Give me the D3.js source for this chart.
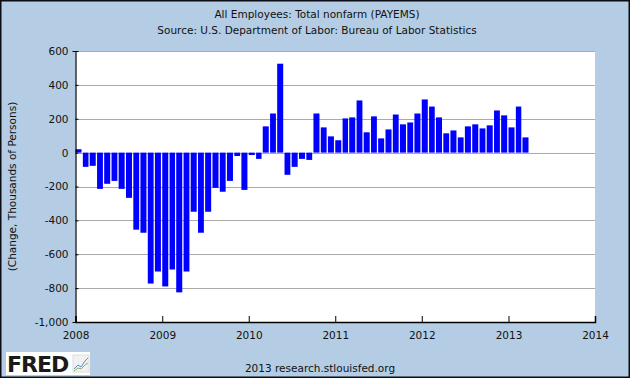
<!DOCTYPE html>
<html>
<head>
<meta charset="utf-8">
<script src="https://cdn.jsdelivr.net/npm/d3@7"></script>
<style>
  body { margin: 0; background: #fff; }
  svg text { font-family: "DejaVu Sans", Verdana, sans-serif; fill: #111; }
</style>
</head>
<body>
<div id="chart"></div>
<script>
// monthly change in nonfarm payrolls, thousands (Jan 2008 .. Mar 2013)
const startMonth = new Date(2008, 0, 1);
const changes = [
  20, -84, -78, -214, -184, -167, -214, -267, -455, -473, -773, -702,
  -790, -690, -825, -702, -349, -473, -349, -208, -231, -167, -20, -220,
  -14, -37, 155, 231, 525, -131, -84, -37, -43, 231, 149, 96,
  73, 202, 208, 308, 120, 214, 84, 137, 225, 167, 178, 231,
  314, 272, 208, 114, 131, 90, 155, 167, 143, 161, 249, 220,
  149, 272, 90
];
const yTicks = [600, 400, 200, 0, -200, -400, -600, -800, -1000];
const xYears = [2008, 2009, 2010, 2011, 2012, 2013, 2014];

const W = 630, H = 378;
const margin = { top: 51, right: 35, bottom: 56, left: 75.5 };

const data = changes.map((v, i) => ({ date: d3.timeMonth.offset(startMonth, i), value: v }));

const svg = d3.select('#chart').append('svg')
  .attr('width', W)
  .attr('height', H);

svg.append('rect')
  .attr('x', 0).attr('y', 0).attr('width', W).attr('height', H)
  .attr('fill', '#b4cde4');
svg.append('rect')
  .attr('x', 0.75).attr('y', 0.75).attr('width', W - 1.5).attr('height', H - 1.5)
  .attr('fill', 'none').attr('stroke', '#0b0b14').attr('stroke-width', 1.5);

const x = d3.scaleTime()
  .domain([new Date(2008, 0, 1), new Date(2014, 0, 1)])
  .range([margin.left, W - margin.right]);
const y = d3.scaleLinear()
  .domain([-1000, 600])
  .range([H - margin.bottom, margin.top]);

// plot area
svg.append('rect')
  .attr('x', x.range()[0]).attr('y', y(600))
  .attr('width', x.range()[1] - x.range()[0])
  .attr('height', y(-1000) - y(600))
  .attr('fill', '#fff');

// gridlines
svg.append('g')
  .selectAll('line')
  .data(yTicks.filter(t => t !== -1000))
  .enter().append('line')
  .attr('x1', x.range()[0]).attr('x2', x.range()[1])
  .attr('y1', d => Math.round(y(d)) + 0.5).attr('y2', d => Math.round(y(d)) + 0.5)
  .attr('stroke', '#aaaaaa').attr('stroke-width', 1);

// bars
svg.append('g')
  .selectAll('rect')
  .data(data)
  .enter().append('rect')
  .attr('x', d => x(d.date))
  .attr('width', d => (x(d3.timeMonth.offset(d.date, 1)) - x(d.date)) * 0.82)
  .attr('y', d => y(Math.max(0, d.value)))
  .attr('height', d => Math.abs(y(d.value) - y(0)))
  .attr('fill', '#0000ff');

// y axis (plain hyphen for negatives, like the original)
const fmt = d3.format(',');
const yAxis = d3.axisLeft(y)
  .tickValues(yTicks)
  .tickSize(3)
  .tickPadding(4)
  .tickFormat(d => fmt(d).replace('\u2212', '-'));
const gy = svg.append('g')
  .attr('transform', `translate(${x.range()[0]},0)`)
  .call(yAxis);
gy.select('.domain').attr('stroke', '#000').attr('stroke-width', 1.2);
gy.selectAll('.tick line').attr('stroke', '#000').attr('x2', 3);
gy.selectAll('.tick text')
  .attr('font-size', 10.5)
  .attr('font-family', '"DejaVu Sans", sans-serif')
  .attr('fill', '#111');

// x axis
const xAxis = d3.axisBottom(x)
  .tickValues(xYears.map(yr => new Date(yr, 0, 1)))
  .tickSize(-6)
  .tickPadding(10)
  .tickFormat(d3.timeFormat('%Y'));
const gx = svg.append('g')
  .attr('transform', `translate(0,${y(-1000)})`)
  .call(xAxis);
gx.select('.domain').attr('stroke', '#000').attr('stroke-width', 1.5);
gx.selectAll('.tick line').attr('stroke', '#000');
gx.selectAll('.tick text')
  .attr('font-size', 10.5)
  .attr('font-family', '"DejaVu Sans", sans-serif')
  .attr('fill', '#111');

// titles
svg.append('text')
  .attr('x', 317).attr('y', 17.5)
  .attr('text-anchor', 'middle')
  .attr('font-size', 10.5)
  .text('All Employees: Total nonfarm (PAYEMS)');
svg.append('text')
  .attr('x', 317).attr('y', 33.5)
  .attr('text-anchor', 'middle')
  .attr('font-size', 10.5)
  .text('Source: U.S. Department of Labor: Bureau of Labor Statistics');

svg.append('text')
  .attr('transform', `translate(16,${(y(600) + y(-1000)) / 2}) rotate(-90)`)
  .attr('text-anchor', 'middle')
  .attr('font-size', 10.5)
  .text('(Change, Thousands of Persons)');

// footer
svg.append('text')
  .attr('x', 320).attr('y', 372)
  .attr('text-anchor', 'middle')
  .attr('font-size', 10.5)
  .text('2013 research.stlouisfed.org');

// FRED logo
const logo = svg.append('g').attr('transform', 'translate(6,352)');
logo.append('rect').attr('width', 84).attr('height', 23).attr('fill', '#fff');
logo.append('text')
  .attr('x', 1).attr('y', 20)
  .attr('font-family', '"Liberation Sans", Arial, sans-serif')
  .attr('font-weight', 'bold')
  .attr('font-size', 22)
  .attr('letter-spacing', -1)
  .style('fill', '#1a1a1a')
  .text('FRED');
logo.append('rect').attr('x', 67).attr('y', 3).attr('width', 16).attr('height', 17)
  .attr('fill', '#f1f1f1').attr('stroke', '#ddd');
logo.append('path').attr('d', 'M68,17 L72,13 L75,15 L79,9 L82,6')
  .attr('fill', 'none').attr('stroke', '#5a8fd0').attr('stroke-width', 1);
logo.append('path').attr('d', 'M68,19 L72,16 L75,17 L79,13 L82,11')
  .attr('fill', 'none').attr('stroke', '#7bbf5a').attr('stroke-width', 1);
</script>
</body>
</html>
